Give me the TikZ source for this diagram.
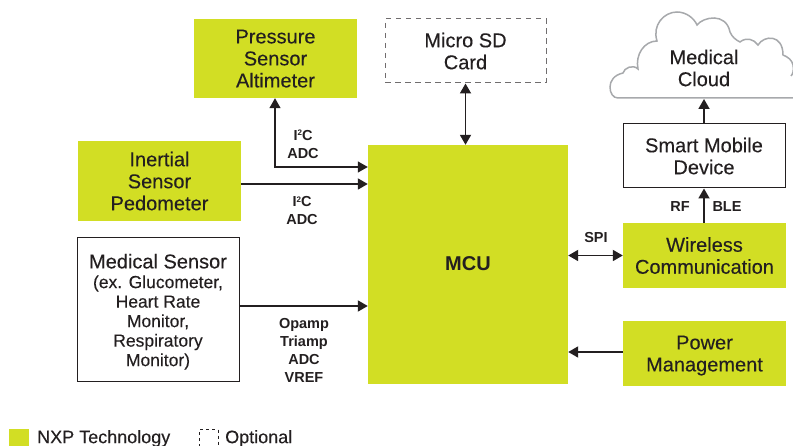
\documentclass[tikz,border=0pt]{standalone}
\usepackage{fontspec}
\setmainfont[UprightFeatures={FakeBold=0.2}]{Liberation Sans}
\usepackage{tikz}
\usetikzlibrary{arrows.meta, positioning, calc}
\definecolor{nxpgreen}{RGB}{210, 222, 36}
\definecolor{inkdark}{RGB}{35, 31, 32}
\definecolor{cloudgray}{RGB}{167, 169, 172}
\newcommand{\sqtwo}{\raisebox{4.5pt}{\fontsize{8}{8}\selectfont 2}}
\tikzset{
    nxpblock/.style={rectangle, fill=nxpgreen, text=inkdark, align=center, inner sep=0pt, text depth=0pt, font=\fontsize{20}{22}\selectfont},
    plainblock/.style={nxpblock, fill=white, draw=inkdark, line width=1pt},
    optblock/.style={plainblock, draw=inkdark!65, line width=1pt, dash pattern=on 5.5pt off 4.5pt},
    busline/.style={draw=inkdark, line width=1.8pt, -{Triangle[length=10pt, width=11pt]}},
    busboth/.style={busline, {Triangle[length=10pt, width=11pt]}-{Triangle[length=10pt, width=11pt]}},
    buslabel/.style={text=inkdark, align=center, inner sep=0pt, font=\fontsize{14.5}{18}\selectfont\bfseries},
    legendtext/.style={right, text=inkdark, inner sep=0pt, font=\fontsize{18}{20}\selectfont}
}
\begin{document}
\begin{tikzpicture}[x=1pt, y=-1pt]
    \useasboundingbox (0,0) rectangle (793,446);

    % Blocks
    \node[nxpblock, minimum width=200pt, minimum height=239pt, text depth=2pt, font=\fontsize{20}{22}\selectfont\bfseries] (mcu) at (468,264.5) {MCU};
    \node[nxpblock, minimum width=163pt, minimum height=79pt, text depth=-1pt] (pressure) at (275.5,58.5) {Pressure\\Sensor\\Altimeter};
    \node[optblock, minimum width=161pt, minimum height=64pt, text depth=-2pt] (microsd) at (465.5,51) {Micro SD\\Card};
    \node[nxpblock, minimum width=163pt, minimum height=80pt] (inertial) at (159.5,181) {Inertial\\Sensor\\Pedometer};
    \node[plainblock, minimum width=162pt, minimum height=144pt] (medical) at (158,310) {Medical Sensor\\[-2.3pt]\fontsize{17.5}{19.5}\selectfont (ex. Glucometer,\\[-2.5pt]\fontsize{17.5}{19.5}\selectfont Heart Rate\\[-2.5pt]\fontsize{17.5}{19.5}\selectfont Monitor,\\[-2.5pt]\fontsize{17.5}{19.5}\selectfont Respiratory\\[-2.5pt]\fontsize{17.5}{19.5}\selectfont Monitor)};
    \node[nxpblock, minimum width=163pt, minimum height=65pt] (wireless) at (704.5,255.5) {Wireless\\Communication};
    \node[nxpblock, minimum width=163pt, minimum height=65pt] (power) at (704.5,353.5) {Power\\Management};
    \node[plainblock, minimum width=162pt, minimum height=64pt] (mobile) at (704,156) {Smart Mobile\\Device};

    % Cloud
    \draw[cloudgray, line width=1.5pt, fill=white] (800,98) -- (618,98)
        .. controls (613,98) and (610,93) .. (610,87)
        .. controls (610,81) and (614,75) .. (623,73)
        .. controls (624,68) and (633,64) .. (638,69)
        .. controls (635,55) and (644,41) .. (657,41)
        .. controls (652,25) and (664,12) .. (677,12)
        .. controls (686,12) and (694,18) .. (697,25)
        .. controls (703,17) and (726,12) .. (730,32)
        .. controls (732,37) and (736,40) .. (740,42)
        .. controls (746,37) and (754,39) .. (758,45)
        .. controls (764,35) and (783,34) .. (783,55)
        .. controls (788,57) and (792,60) .. (793,65)
        .. controls (794,70) and (793,74) .. (791,76);
    \node[text=inkdark, align=center, inner sep=0pt, font=\fontsize{20}{22}\selectfont] (cloudtext) at (704,68) {Medical\\Cloud};
    \coordinate (cloudbase) at (704,99);

    % Connectors
    \coordinate (pressurein) at (mcu.west |- 0,167);
    \draw[busline, line width=1.2pt, {Triangle[length=10pt, width=11pt]}-{Triangle[length=10pt, width=11pt]}] (pressure.south -| 275,0) -- (275,167) -- (pressurein);
    \draw[busline] (inertial.east |- 0,184) -- (mcu.west |- 0,184);
    \draw[busline] (medical.east |- 0,306) -- (mcu.west |- 0,306);
    \draw[busboth] (microsd.south) -- (microsd.south |- mcu.north);
    \draw[busboth] (mcu.east |- wireless.west) -- (wireless.west);
    \draw[busline] (power.west |- 0,352) -- (mcu.east |- 0,352);
    \draw[busline] (wireless.north -| mobile.south) -- (mobile.south);
    \draw[busline] (mobile.north) -- (cloudbase);

    % Labels
    \node[buslabel] (busa) at (303,144.5) {I\sqtwo C\\ADC};
    \node[buslabel] (busb) at (302,211) {I\sqtwo C\\ADC};
    \node[buslabel] (busc) at (304,350) {Opamp\\Triamp\\ADC\\VREF};
    \node[buslabel] (busspi) at (596,238) {SPI};
    \node[buslabel] (busrf) at (680,207) {RF};
    \node[buslabel] (busble) at (727,207) {BLE};

    % Legend
    \fill[nxpgreen] (9,429) rectangle (29,447);
    \node[legendtext] (legnxp) at (37,438.5) {NXP Technology};
    \draw[inkdark, line width=1pt, dash pattern=on 3pt off 3pt] (199.5,447) -- (199.5,429.5) -- (218,429.5) -- (218,447);
    \node[legendtext] (legopt) at (225,438.5) {Optional};
\end{tikzpicture}
\end{document}
